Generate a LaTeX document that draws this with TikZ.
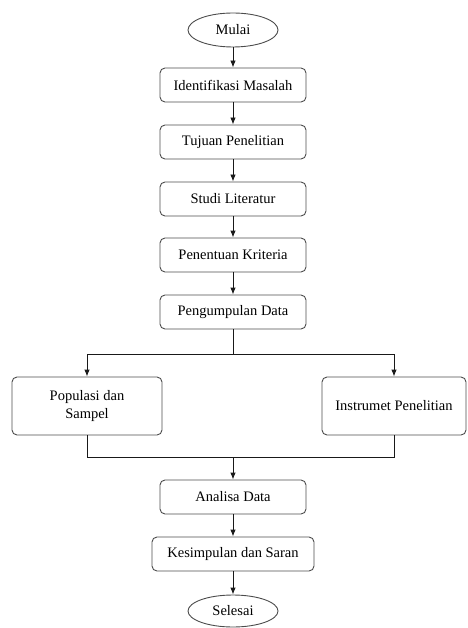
\documentclass[tikz,border=0pt]{standalone}
\usepackage{fontspec}
\setmainfont{Liberation Serif}
\usetikzlibrary{shapes.geometric,arrows.meta}

\begin{document}
\begin{tikzpicture}[x=1pt,y=-1pt,
  font=\fontsize{14.5}{18}\selectfont,
  proses/.style={draw=black!70, line width=0.9pt, rounded corners=5pt, minimum width=146pt, minimum height=34pt, inner sep=2pt, align=center},
  terminal/.style={draw=black!70, line width=0.9pt, ellipse, minimum width=90pt, minimum height=34pt, inner sep=1pt},
  panah/.style={-{Latex[length=7pt,width=5.5pt]}, black!90, line width=0.9pt},
  garis/.style={black!90, line width=0.9pt}]
\useasboundingbox (0,0) rectangle (467,628);
\node[terminal] (mulai) at (233,30) {Mulai};
\node[proses] (identifikasi) at (233,85) {Identifikasi Masalah};
\node[proses] (tujuan) at (233,142) {Tujuan Penelitian};
\node[proses] (studi) at (233,199) {Studi Literatur};
\node[proses] (kriteria) at (233,255) {Penentuan Kriteria};
\node[proses] (pengumpulan) at (233,312) {Pengumpulan Data};
\node[proses, minimum width=150pt, minimum height=58pt] (populasi) at (87,406) {Populasi dan\\Sampel};
\node[proses, minimum width=144pt, minimum height=58pt] (instrumen) at (394,406) {Instrumet Penelitian};
\node[proses] (analisa) at (233,497) {Analisa Data};
\node[proses, minimum width=162pt] (kesimpulan) at (233,554) {Kesimpulan dan Saran};
\node[terminal, minimum height=32pt] (selesai) at (233,611) {Selesai};
\coordinate (cabang) at (233,354);
\coordinate (gabung) at (233,457);
\draw[panah] (mulai) -- (identifikasi);
\draw[panah] (identifikasi) -- (tujuan);
\draw[panah] (tujuan) -- (studi);
\draw[panah] (studi) -- (kriteria);
\draw[panah] (kriteria) -- (pengumpulan);
\draw[garis] (pengumpulan) -- (cabang);
\draw[panah] (cabang) -| (populasi);
\draw[panah] (cabang) -| (instrumen);
\draw[garis] (populasi) |- (gabung);
\draw[garis] (instrumen) |- (gabung);
\draw[panah] (gabung) -- (analisa);
\draw[panah] (analisa) -- (kesimpulan);
\draw[panah] (kesimpulan) -- (selesai);
\end{tikzpicture}
\end{document}
